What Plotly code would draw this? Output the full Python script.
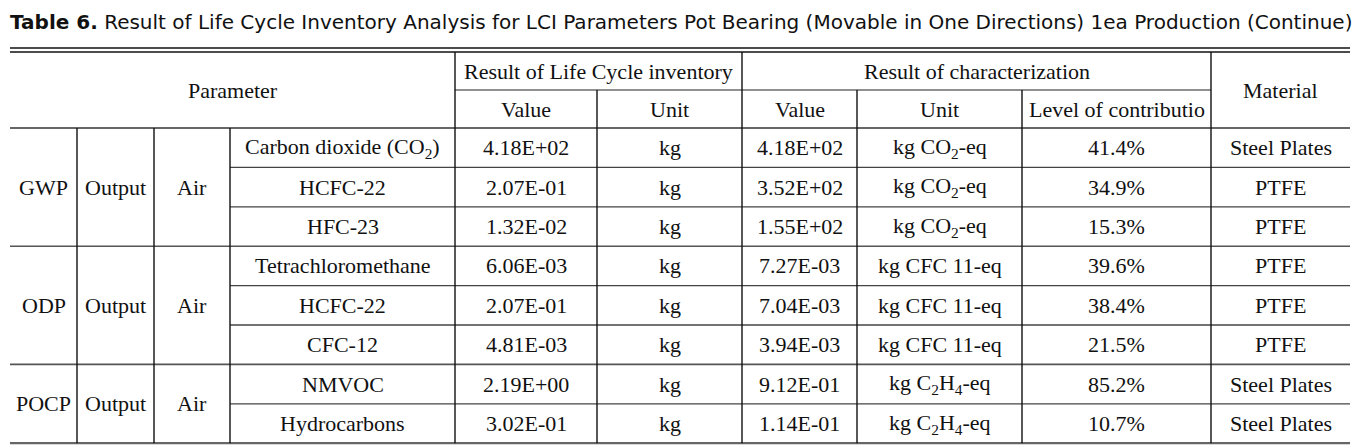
import plotly.graph_objects as go

# ---------------- data ----------------
title_bold = "Table 6."
title_rest = " Result of Life Cycle Inventory Analysis for LCI Parameters Pot Bearing (Movable in One Directions) 1ea Production (Continue)"

groups = ["GWP", "ODP", "POCP"]
group_sizes = [3, 3, 2]
flow = ["Output", "Output", "Output"]
medium = ["Air", "Air", "Air"]

substances = ["Carbon dioxide (CO<sub>2</sub>)", "HCFC-22", "HFC-23",
              "Tetrachloromethane", "HCFC-22", "CFC-12",
              "NMVOC", "Hydrocarbons"]
lci_values = ["4.18E+02", "2.07E-01", "1.32E-02", "6.06E-03", "2.07E-01", "4.81E-03", "2.19E+00", "3.02E-01"]
lci_units = ["kg", "kg", "kg", "kg", "kg", "kg", "kg", "kg"]
char_values = ["4.18E+02", "3.52E+02", "1.55E+02", "7.27E-03", "7.04E-03", "3.94E-03", "9.12E-01", "1.14E-01"]
char_units = ["kg CO<sub>2</sub>-eq", "kg CO<sub>2</sub>-eq", "kg CO<sub>2</sub>-eq",
              "kg CFC 11-eq", "kg CFC 11-eq", "kg CFC 11-eq",
              "kg C<sub>2</sub>H<sub>4</sub>-eq", "kg C<sub>2</sub>H<sub>4</sub>-eq"]
contribution = ["41.4%", "34.9%", "15.3%", "39.6%", "38.4%", "21.5%", "85.2%", "10.7%"]
materials = ["Steel Plates", "PTFE", "PTFE", "PTFE", "PTFE", "PTFE", "Steel Plates", "Steel Plates"]

header_top = ["Parameter", "Result of Life Cycle inventory", "Result of characterization", "Material"]
header_sub = ["Value", "Unit", "Value", "Unit", "Level of contributio"]

# ---------------- layout geometry (page pixel coordinates) ----------------
PAGE_W, PAGE_H = 1370, 446
BODY = 8  # default page margin of the html body
x0 = 10
col_widths = [67, 77, 76, 225, 142, 145, 115, 165, 189, 139]
xs = [x0]
for w in col_widths:
    xs.append(xs[-1] + w)
y_top = 52
head_h = 38
row_h = 39.4
y_head_mid = y_top + head_h
y_data = y_top + 2 * head_h
n_rows = len(substances)
ys = [y_data + i * row_h for i in range(n_rows + 1)]
y_bot = ys[-1]

SERIF = "Liberation Serif"
FS = 22
TXT = "#111111"

fig = go.Figure()
fig.add_trace(go.Scatter(x=[BODY, PAGE_W], y=[BODY, PAGE_H], mode="markers",
                         marker=dict(opacity=0), hoverinfo="skip", showlegend=False))

shapes = []
def hline(x_a, x_b, y, color="#222222", width=1.3):
    shapes.append(dict(type="line", xref="x", yref="y", x0=x_a, x1=x_b, y0=y, y1=y,
                       line=dict(color=color, width=width)))
def vline(x, y_a, y_b, color="#111111", width=1.4):
    shapes.append(dict(type="line", xref="x", yref="y", x0=x, x1=x, y0=y_a, y1=y_b,
                       line=dict(color=color, width=width)))

# top double line
hline(xs[0], xs[-1], y_top - 4, "#111111", 1.6)
hline(xs[0], xs[-1], y_top, "#111111", 1.6)
# header middle line
hline(xs[4], xs[9], y_head_mid, "#222222", 1.2)
# header bottom
hline(xs[0], xs[-1], y_data, "#666666", 2.2)
# data rows
start = 0
group_bounds = []
for g, n in zip(groups, group_sizes):
    group_bounds.append((start, start + n))
    start += n
for gi, (a, b) in enumerate(group_bounds):
    for r in range(a + 1, b):
        hline(xs[3], xs[-1], ys[r], "#444444", 1.3)
    if b < n_rows:
        hline(xs[0], xs[-1], ys[b], "#555555", 1.6)
hline(xs[0], xs[-1], y_bot, "#666666", 2.2)

# vertical lines header
for i in (4, 6, 9):
    vline(xs[i], y_top, y_data)
for i in (5, 7, 8):
    vline(xs[i], y_head_mid, y_data)
# vertical lines data
for i in range(1, 10):
    vline(xs[i], y_data, y_bot)

ann = []
def text(x, y, s, size=FS, family=SERIF, xanchor="center"):
    ann.append(dict(x=x, y=y, xref="x", yref="y", text=s, showarrow=False,
                    xanchor=xanchor, yanchor="middle",
                    font=dict(family=family, size=size, color=TXT)))

def cx(i, j):
    return (xs[i] + xs[j]) / 2

# header
text(cx(0, 4), (y_top + y_data) / 2, header_top[0])
text(cx(4, 6), (y_top + y_head_mid) / 2, header_top[1])
text(cx(6, 9), (y_top + y_head_mid) / 2, header_top[2])
text(cx(9, 10), (y_top + y_data) / 2, header_top[3])
for k, s in enumerate(header_sub):
    text(cx(4 + k, 5 + k), (y_head_mid + y_data) / 2, s)

# group cells
for gi, (a, b) in enumerate(group_bounds):
    yc = (ys[a] + ys[b]) / 2
    text(cx(0, 1), yc, groups[gi])
    text(cx(1, 2), yc, flow[gi])
    text(cx(2, 3), yc, medium[gi])

# row cells
cols = [substances, lci_values, lci_units, char_values, char_units, contribution, materials]
for r in range(n_rows):
    yc = (ys[r] + ys[r + 1]) / 2
    for c, arr in enumerate(cols):
        text(cx(3 + c, 4 + c), yc, arr[r])

# title
ann.append(dict(x=8, y=22, xref="x", yref="y", showarrow=False, xanchor="left", yanchor="middle",
                text="<b>" + title_bold + "</b>" + title_rest,
                font=dict(family="DejaVu Sans", size=20, color="#111111")))

fig.update_layout(
    width=PAGE_W - BODY, height=PAGE_H - BODY,
    margin=dict(l=0, r=0, t=0, b=0),
    paper_bgcolor="white", plot_bgcolor="white",
    xaxis=dict(range=[BODY, PAGE_W], visible=False, fixedrange=True),
    yaxis=dict(range=[PAGE_H, BODY], visible=False, fixedrange=True),
    shapes=shapes, annotations=ann, showlegend=False,
)

fig.write_html("out.html")
